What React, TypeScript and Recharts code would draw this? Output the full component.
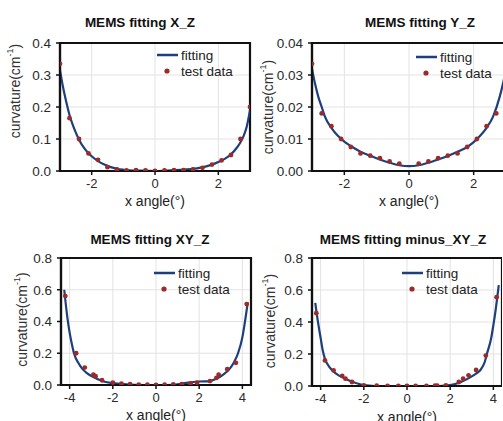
import {
  ComposedChart,
  Line,
  Scatter,
  XAxis,
  YAxis,
  CartesianGrid,
  Legend,
  ReferenceArea,
} from 'recharts';

// X_Z panel
const xzFitX = [-3, -2.9, -2.8, -2.7, -2.6, -2.5, -2.4, -2.2, -2.0, -1.8, -1.6, -1.4, -1.2, -1.0, -0.8, -0.5, 0, 0.5, 1.0, 1.4, 1.8, 2.0, 2.2, 2.4, 2.6, 2.7, 2.8, 2.9, 3.0];
const xzFitY = [0.315, 0.26, 0.215, 0.175, 0.145, 0.12, 0.098, 0.067, 0.046, 0.031, 0.02, 0.012, 0.007, 0.004, 0.002, 0.001, 0.0, 0.002, 0.005, 0.01, 0.02, 0.028, 0.038, 0.052, 0.075, 0.09, 0.11, 0.14, 0.19];
const xzTestX = [-3, -2.7, -2.4, -2.1, -1.8, -1.5, -1.2, -0.9, -0.6, -0.3, 0, 0.3, 0.6, 0.9, 1.2, 1.5, 1.8, 2.1, 2.4, 2.7, 3.0];
const xzTestY = [0.335, 0.165, 0.1, 0.055, 0.035, 0.012, 0.005, 0.002, 0.003, 0.002, 0.0, 0.002, 0.003, 0.003, 0.005, 0.01, 0.02, 0.033, 0.05, 0.1, 0.2];

// Y_Z panel
const yzFitX = [-3, -2.9, -2.8, -2.7, -2.6, -2.4, -2.2, -2.0, -1.8, -1.5, -1.2, -0.9, -0.6, -0.3, 0, 0.3, 0.6, 0.9, 1.2, 1.5, 1.8, 2.0, 2.2, 2.4, 2.6, 2.8, 2.9, 3.0];
const yzFitY = [0.032, 0.027, 0.023, 0.02, 0.017, 0.0135, 0.011, 0.0092, 0.0078, 0.006, 0.0048, 0.0036, 0.0026, 0.0018, 0.0015, 0.0018, 0.0026, 0.0036, 0.0047, 0.006, 0.0075, 0.009, 0.011, 0.0135, 0.017, 0.023, 0.027, 0.032];
const yzTestX = [-3, -2.7, -2.4, -2.1, -1.8, -1.5, -1.2, -0.9, -0.6, -0.3, 0.3, 0.6, 0.9, 1.2, 1.5, 1.8, 2.1, 2.4, 2.7, 3.0];
const yzTestY = [0.0335, 0.018, 0.014, 0.01, 0.0075, 0.0055, 0.0048, 0.004, 0.003, 0.0023, 0.0023, 0.003, 0.004, 0.0048, 0.0055, 0.0075, 0.01, 0.014, 0.018, 0.0335];

// XY_Z panel
const xyFitX = [-4.25, -4.1, -4.0, -3.9, -3.8, -3.6, -3.4, -3.2, -2.9, -2.5, -2.0, -1.5, -1.0, -0.5, 0, 0.5, 1.0, 1.5, 2.0, 2.5, 2.8, 3.0, 3.2, 3.4, 3.6, 3.8, 4.0, 4.1, 4.25];
const xyFitY = [0.6, 0.42, 0.33, 0.26, 0.2, 0.14, 0.1, 0.075, 0.05, 0.025, 0.012, 0.005, 0.001, 0.0, 0.0, 0.0, 0.004, 0.015, 0.022, 0.025, 0.04, 0.055, 0.075, 0.1, 0.14, 0.2, 0.3, 0.38, 0.52];
const xyTestX = [-4.2, -3.7, -3.3, -2.9, -2.8, -2.5, -2.0, -1.6, -1.2, -0.8, -0.4, 0, 0.4, 0.8, 1.2, 1.6, 1.9, 2.5, 2.8, 2.9, 3.3, 3.7, 4.2];
const xyTestY = [0.56, 0.2, 0.11, 0.065, 0.055, 0.03, 0.015, 0.008, 0.005, 0.002, 0.002, 0.001, 0.002, 0.003, 0.005, 0.01, 0.015, 0.025, 0.045, 0.065, 0.1, 0.14, 0.51];

// minus_XY_Z panel
const mxFitX = [-4.25, -4.1, -4.0, -3.9, -3.8, -3.6, -3.4, -3.2, -3.0, -2.5, -2.0, -1.5, -1.0, -0.5, 0, 0.5, 1.0, 1.5, 2.0, 2.5, 3.0, 3.2, 3.4, 3.6, 3.7, 3.9, 4.0, 4.1, 4.25];
const mxFitY = [0.52, 0.38, 0.3, 0.22, 0.17, 0.12, 0.09, 0.07, 0.055, 0.025, 0.005, 0.0, 0.0, 0.0, 0.0, 0.0, 0.0, 0.0, 0.005, 0.025, 0.06, 0.078, 0.1, 0.15, 0.2, 0.3, 0.38, 0.47, 0.63];
const mxTestX = [-4.2, -3.8, -3.4, -3.0, -2.85, -2.55, -2.0, -1.4, -0.9, -0.4, 0, 0.4, 0.9, 1.3, 1.4, 1.8, 2.4, 2.6, 2.85, 3.2, 3.65, 4.15];
const mxTestY = [0.455, 0.16, 0.098, 0.063, 0.046, 0.025, 0.004, 0.002, 0.001, 0.001, 0.001, 0.001, 0.001, 0.002, 0.002, 0.004, 0.025, 0.046, 0.067, 0.1, 0.19, 0.555];

const xTicksSmall = [-2, 0, 2];
const xTicksWide = [-4, -2, 0, 2, 4];
const yTicksXZ = [0, 0.1, 0.2, 0.3, 0.4];
const yTicksYZ = [0, 0.01, 0.02, 0.03, 0.04];
const yTicksXY = [0, 0.2, 0.4, 0.6, 0.8];

const FONT = '"Liberation Sans", Arial, sans-serif';
const LINE = '#1d3f7c';
const DOT = '#9c2a2a';

const zip = (xs: number[], ys: number[]) => xs.map((x, i) => ({ x, y: ys[i] }));

interface PanelProps {
  title: string;
  left: number;
  top: number;
  width: number;
  height: number;
  margin: { top: number; right: number; left: number; bottom: number };
  yWidth: number;
  xHeight: number;
  xDomain: [number, number];
  xTicks: number[];
  yTicks: number[];
  digits: number;
  fit: { x: number; y: number }[];
  test: { x: number; y: number }[];
  titleX: number;
  titleY: number;
  yLabelX: number;
  yLabelDy: number;
  xLabelDy: number;
  legendX: number;
  legendY: number;
}

function LegendBox() {
  return (
    <svg width={90} height={36} style={{ overflow: 'visible', display: 'block' }}>
      <line x1={0} y1={8} x2={21} y2={8} stroke={LINE} strokeWidth={2.5} />
      <text x={24} y={13} fontSize={13.5} fill="#222" fontFamily={FONT}>fitting</text>
      <circle cx={10} cy={24} r={2.6} fill={DOT} />
      <text x={24} y={29} fontSize={13.5} fill="#222" fontFamily={FONT}>test data</text>
    </svg>
  );
}

function Panel(p: PanelProps) {
  const yMax = p.yTicks[p.yTicks.length - 1];
  return (
    <div style={{ position: 'absolute', left: p.left, top: p.top, width: p.width, height: p.height }}>
      <div
        style={{
          position: 'absolute',
          left: p.titleX - 100,
          top: p.titleY - 8,
          width: 200,
          textAlign: 'center',
          fontFamily: FONT,
          fontWeight: 'bold',
          fontSize: 13.5,
          color: '#111',
          lineHeight: '16px',
        }}
      >
        {p.title}
      </div>
      <ComposedChart width={p.width} height={p.height} margin={p.margin} style={{ overflow: 'visible' }}>
        <CartesianGrid stroke="#e3e3e3" strokeWidth={1} />
        <XAxis
          type="number"
          dataKey="x"
          domain={p.xDomain}
          ticks={p.xTicks}
          allowDataOverflow
          height={p.xHeight}
          tickSize={4}
          tickMargin={4}
          axisLine={{ stroke: '#111', strokeWidth: 2.2 }}
          tickLine={{ stroke: '#111', strokeWidth: 1.5 }}
          tick={{ fontSize: 13, fill: '#2a2a2a', fontFamily: FONT }}
          label={{
            content: ({ viewBox }: any) => (
              <text
                x={viewBox.x + viewBox.width / 2}
                y={viewBox.y + 35 + p.xLabelDy}
                textAnchor="middle"
                fontSize={14}
                fill="#222"
                fontFamily={FONT}
              >
                x angle(°)
              </text>
            ),
          }}
        />
        <YAxis
          type="number"
          dataKey="y"
          domain={[0, yMax]}
          ticks={p.yTicks}
          allowDataOverflow
          width={p.yWidth}
          tickSize={4}
          tickMargin={5}
          tickFormatter={(v: number) => v.toFixed(p.digits)}
          axisLine={{ stroke: '#111', strokeWidth: 2.2 }}
          tickLine={{ stroke: '#111', strokeWidth: 1.5 }}
          tick={{ fontSize: 13.5, fill: '#2a2a2a', fontFamily: FONT }}
          label={{
            content: ({ viewBox }: any) => {
              const cy = viewBox.y + viewBox.height / 2 + p.yLabelDy;
              return (
                <text
                  x={p.yLabelX}
                  y={cy}
                  transform={`rotate(-90 ${p.yLabelX} ${cy})`}
                  textAnchor="middle"
                  dominantBaseline="central"
                  fontSize={14}
                  fill="#333"
                  fontFamily={FONT}
                >
                  curvature(cm<tspan dy={-5} fontSize={9}>-1</tspan><tspan dy={5}>)</tspan>
                </text>
              );
            },
          }}
        />
        <ReferenceArea
          x1={p.xDomain[0]}
          x2={p.xDomain[1]}
          y1={0}
          y2={yMax}
          fill="none"
          stroke="#111"
          strokeWidth={2.2}
          ifOverflow="visible"
        />
        <Line
          data={p.fit}
          dataKey="y"
          type="monotone"
          stroke={LINE}
          strokeWidth={2.2}
          dot={false}
          isAnimationActive={false}
          name="fitting"
        />
        <Scatter
          data={p.test}
          dataKey="y"
          fill={DOT}
          shape={(s: any) => <circle cx={s.cx} cy={s.cy} r={2.4} fill={DOT} />}
          isAnimationActive={false}
          name="test data"
        />
        <Legend
          layout="vertical"
          align="center"
          verticalAlign="middle"
          wrapperStyle={{ position: 'absolute', left: p.legendX, top: p.legendY, width: 90 }}
          content={() => <LegendBox />}
        />
      </ComposedChart>
    </div>
  );
}

export default function App() {
  return (
    <div
      style={{
        position: 'absolute',
        left: 0,
        top: 0,
        width: 503,
        height: 421,
        overflow: 'hidden',
        background: '#fff',
      }}
    >
      <Panel
        title="MEMS fitting X_Z"
        left={0}
        top={0}
        width={252}
        height={210}
        margin={{ top: 43, right: 2, left: 0, bottom: 0 }}
        yWidth={60}
        xHeight={39}
        xDomain={[-3, 3]}
        xTicks={xTicksSmall}
        yTicks={yTicksXZ}
        digits={1}
        fit={zip(xzFitX, xzFitY)}
        test={zip(xzTestX, xzTestY)}
        titleX={140}
        titleY={23}
        yLabelX={15}
        yLabelDy={-16}
        xLabelDy={0}
        legendX={157}
        legendY={47}
      />
      <Panel
        title="MEMS fitting Y_Z"
        left={252}
        top={0}
        width={254}
        height={210}
        margin={{ top: 43, right: 0, left: 0, bottom: 0 }}
        yWidth={60}
        xHeight={39}
        xDomain={[-3, 3]}
        xTicks={xTicksSmall}
        yTicks={yTicksYZ}
        digits={2}
        fit={zip(yzFitX, yzFitY)}
        test={zip(yzTestX, yzTestY)}
        titleX={168}
        titleY={23}
        yLabelX={16}
        yLabelDy={0}
        xLabelDy={0}
        legendX={164}
        legendY={49}
      />
      <Panel
        title="MEMS fitting XY_Z"
        left={0}
        top={210}
        width={253}
        height={211}
        margin={{ top: 48, right: 2, left: 0, bottom: 0 }}
        yWidth={61}
        xHeight={36}
        xDomain={[-4.4, 4.4]}
        xTicks={xTicksWide}
        yTicks={yTicksXY}
        digits={1}
        fit={zip(xyFitX, xyFitY)}
        test={zip(xyTestX, xyTestY)}
        titleX={150}
        titleY={30}
        yLabelX={22}
        yLabelDy={-2}
        xLabelDy={0}
        legendX={154}
        legendY={55}
      />
      <Panel
        title="MEMS fitting minus_XY_Z"
        left={252}
        top={210}
        width={250}
        height={211}
        margin={{ top: 48, right: 0, left: 0, bottom: 0 }}
        yWidth={60}
        xHeight={35}
        xDomain={[-4.4, 4.4]}
        xTicks={xTicksWide}
        yTicks={yTicksXY}
        digits={1}
        fit={zip(mxFitX, mxFitY)}
        test={zip(mxTestX, mxTestY)}
        titleX={151}
        titleY={30}
        yLabelX={18}
        yLabelDy={-1}
        xLabelDy={1}
        legendX={150}
        legendY={55}
      />
    </div>
  );
}
